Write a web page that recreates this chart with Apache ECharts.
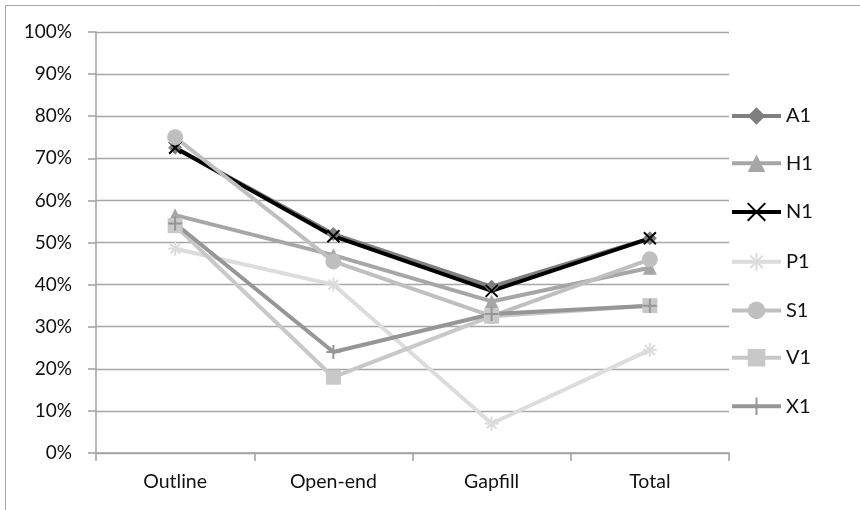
<!DOCTYPE html>
<html>
<head>
<meta charset="utf-8">
<script src="https://cdn.jsdelivr.net/npm/echarts@6/dist/echarts.min.js"></script>
<style>
  html, body { margin: 0; padding: 0; background: #fff; }
  #chart { width: 860px; height: 510px; }
</style>
</head>
<body>
<div id="chart"></div>
<script>
// Task types on the category axis
const categories = ['Outline', 'Open-end', 'Gapfill', 'Total'];

// Share of correct answers (%) per participant
const A1 = [72.5, 52, 39.5, 51];
const H1 = [56.5, 47, 36, 44];
const N1 = [72.5, 51.5, 38.5, 51];
const P1 = [48.5, 40, 7, 24.5];
const S1 = [75, 45.5, 32.5, 46];
const V1 = [54, 18, 32.5, 35];
const X1 = [54.5, 24, 33, 35];

const yTicks = [0, 10, 20, 30, 40, 50, 60, 70, 80, 90, 100];

const FONT = 'Lato, "Open Sans", sans-serif';

// Stroked marker shapes
const CROSS = 'path://M0,0L10,10M10,0L0,10';
const STAR = 'path://M0,5L10,5M5,0L5,10M1.5,1.5L8.5,8.5M8.5,1.5L1.5,8.5';
const PLUS = 'path://M0,5L10,5M5,0L5,10';

function solid(name, data, color, symbol, size) {
  return {
    name, type: 'line', data,
    symbol, symbolSize: size,
    lineStyle: { color, width: 4 },
    itemStyle: { color },
    emphasis: { disabled: true }
  };
}
function stroked(name, data, color, symbol, size, bw) {
  return {
    name, type: 'line', data,
    symbol, symbolSize: size,
    lineStyle: { color, width: 4 },
    itemStyle: { color: 'none', borderColor: color, borderWidth: bw },
    emphasis: { disabled: true }
  };
}

const chart = echarts.init(document.getElementById('chart'), null, { renderer: 'canvas' });
chart.setOption({
  animation: false,
  backgroundColor: '#fff',
  graphic: [{
    type: 'rect',
    shape: { x: 5.5, y: 5.5, width: 900, height: 600 },
    style: { fill: 'none', stroke: '#a6a6a6', lineWidth: 1 },
    silent: true, z: -1
  }],
  grid: { left: 96, right: 131, top: 32, bottom: 57, containLabel: false },
  xAxis: {
    type: 'category',
    data: categories,
    boundaryGap: true,
    axisLine: { lineStyle: { color: '#a0a0a0', width: 1.5 } },
    axisTick: { show: true, length: 8, lineStyle: { color: '#a0a0a0', width: 1.5 } },
    axisLabel: { color: '#111', fontSize: 19.5, fontFamily: FONT, margin: 19 },
    splitLine: { show: false }
  },
  yAxis: {
    type: 'value',
    min: yTicks[0], max: yTicks[yTicks.length - 1], interval: 10,
    axisLine: { show: true, lineStyle: { color: '#a0a0a0', width: 1.5 } },
    axisTick: { show: true, length: 8, lineStyle: { color: '#a0a0a0', width: 1.5 } },
    axisLabel: { color: '#111', fontSize: 19, fontFamily: FONT, margin: 24, formatter: v => v + '%' },
    splitLine: { show: true, lineStyle: { color: '#a6a6a6', width: 1.3 } }
  },
  legend: {
    orient: 'vertical',
    left: 725, top: 101,
    itemWidth: 49, itemHeight: 22, itemGap: 27.3,
    lineStyle: { width: 4 },
    textStyle: { color: '#111', fontSize: 20, fontFamily: FONT },
    data: ['A1', 'H1', 'N1', 'P1', 'S1', 'V1', 'X1']
  },
  series: [
    solid('A1', A1, '#7f7f7f', 'diamond', 14),
    solid('H1', H1, '#a6a6a6', 'triangle', 14),
    stroked('N1', N1, '#000000', CROSS, 12, 2),
    stroked('P1', P1, '#dcdcdc', STAR, 14, 2),
    solid('S1', S1, '#bfbfbf', 'circle', 16),
    solid('V1', V1, '#c8c8c8', 'rect', 15),
    stroked('X1', X1, '#969696', PLUS, 14, 2)
  ]
});
</script>
</body>
</html>
